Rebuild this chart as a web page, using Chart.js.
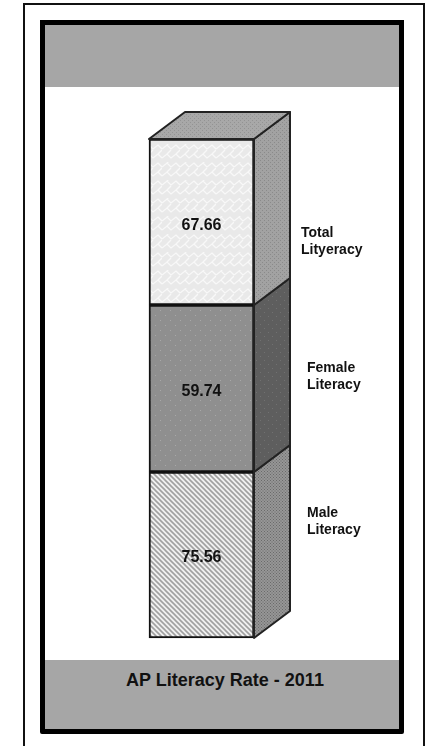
<!DOCTYPE html>
<html>
<head>
<meta charset="utf-8">
<title>AP Literacy Rate - 2011</title>
<script src="https://cdn.jsdelivr.net/npm/chart.js@4/dist/chart.umd.min.js"></script>
<style>
html, body { margin: 0; padding: 0; background: #fff; overflow: hidden; }
body { width: 438px; height: 746px; position: relative; font-family: "Liberation Sans", Arial, sans-serif; }
#outer { position: absolute; left: 23px; top: 3px; width: 398px; height: 760px; border: 2px solid #111; }
#inner { position: absolute; left: 40px; top: 20px; width: 354px; height: 704px; border: 5px solid #000; border-radius: 0 0 2px 2px; }
#topBand { position: absolute; left: 45px; top: 25px; width: 354px; height: 62px; background: #a6a6a6; }
#bottomBand { position: absolute; left: 45px; top: 660px; width: 354px; height: 69px; background: #a6a6a6; }
#title { position: absolute; left: 45px; top: 670px; width: 360px; text-align: center; font-weight: bold; font-size: 18px; line-height: 20px; color: #111; }
canvas { position: absolute; left: 0; top: 0; }
</style>
</head>
<body>
<div id="outer"></div>
<div id="inner"></div>
<div id="topBand"></div>
<div id="bottomBand"></div>
<div id="title">AP Literacy Rate - 2011</div>
<canvas id="literacyChart" width="438" height="746"></canvas>
<script>
// bottom to top, same order as the stack
var categories = [["Male", "Literacy"], ["Female", "Literacy"], ["Total", "Lityeracy"]];
var rateLabels = ["75.56", "59.74", "67.66"];
// the picture draws all three blocks the same height, whatever the printed rate says
var blockHeights = [166, 167, 166];

// label offset from the block's middle, px
var labelX = [53, 53, 47];
var labelY = [-33, -12, 20];
var rateY = [3, 3, 4];
var depthX = 36;
var depthY = -27;

function makePattern(size, draw) {
    var c = document.createElement("canvas");
    c.width = size;
    c.height = size;
    draw(c.getContext("2d"));
    return c.getContext("2d").createPattern(c, "repeat");
}

function dots(bg, fg, step) {
    return makePattern(step, function(g) {
        g.fillStyle = bg;
        g.fillRect(0, 0, step, step);
        g.fillStyle = fg;
        g.fillRect(0, 0, 1, 1);
        g.fillRect(step / 2, step / 2, 1, 1);
    });
}

var weave = makePattern(18, function(g) {
    g.fillStyle = "#e9e9e9";
    g.fillRect(0, 0, 18, 18);
    g.strokeStyle = "#f8f8f8";
    g.lineWidth = 1.3;
    g.beginPath();
    g.moveTo(0, 5); g.lineTo(5, 1); g.lineTo(9, 5); g.lineTo(14, 1); g.lineTo(18, 5);
    g.moveTo(0, 14); g.lineTo(5, 10); g.lineTo(9, 14); g.lineTo(14, 10); g.lineTo(18, 14);
    g.moveTo(5, 1); g.lineTo(9, -3);
    g.moveTo(14, 10); g.lineTo(18, 6);
    g.moveTo(5, 10); g.lineTo(9, 6);
    g.stroke();
});

var stripes = makePattern(5, function(g) {
    g.fillStyle = "#f0f0f0";
    g.fillRect(0, 0, 5, 5);
    g.strokeStyle = "#a0a0a0";
    g.lineWidth = 1.6;
    g.beginPath();
    g.moveTo(-2, -2); g.lineTo(7, 7);
    g.moveTo(-7, -2); g.lineTo(2, 7);
    g.moveTo(3, -2); g.lineTo(12, 7);
    g.stroke();
});

var frontFills = [stripes, dots("#8f8f8f", "#a8a8a8", 10), weave];
var sideFills = [dots("#969696", "#6a6a6a", 3), dots("#5e5e5e", "#717171", 8), dots("#a2a2a2", "#8a8a8a", 4)];
var topFill = dots("#a8a8a8", "#939393", 4);

function face(ctx, pts, fill) {
    ctx.beginPath();
    ctx.moveTo(pts[0][0], pts[0][1]);
    for (var i = 1; i < pts.length; i++) ctx.lineTo(pts[i][0], pts[i][1]);
    ctx.closePath();
    ctx.fillStyle = fill;
    ctx.fill();
    ctx.lineWidth = 2;
    ctx.strokeStyle = "#222";
    ctx.stroke();
}

var blockPlugin = {
    id: "block3d",
    afterDatasetsDraw: function(chart) {
        var ctx = chart.ctx;
        ctx.save();
        ctx.lineJoin = "round";
        for (var i = 0; i < chart.data.datasets.length; i++) {
            var bar = chart.getDatasetMeta(i).data[0];
            var right = bar.x + bar.width / 2;
            var left = bar.x - bar.width / 2;
            face(ctx, [[right, bar.y], [right + depthX, bar.y + depthY], [right + depthX, bar.base + depthY], [right, bar.base]], sideFills[i]);
            if (i === chart.data.datasets.length - 1) {
                face(ctx, [[left, bar.y], [left + depthX, bar.y + depthY], [right + depthX, bar.y + depthY], [right, bar.y]], topFill);
            }
            var mid = (bar.y + bar.base) / 2;
            ctx.fillStyle = "#111";
            ctx.textAlign = "center";
            ctx.textBaseline = "middle";
            ctx.font = "bold 16px 'Liberation Sans', Arial, sans-serif";
            ctx.fillText(rateLabels[i], bar.x, mid + rateY[i]);
            ctx.textAlign = "left";
            ctx.font = "bold 14px 'Liberation Sans', Arial, sans-serif";
            for (var k = 0; k < categories[i].length; k++) {
                ctx.fillText(categories[i][k], right + labelX[i], mid + labelY[i] + (k - 0.5) * 17);
            }
        }
        ctx.restore();
    }
};

var datasets = [];
for (var i = 0; i < blockHeights.length; i++) {
    datasets.push({
        label: categories[i].join(" "),
        data: [blockHeights[i]],
        backgroundColor: frontFills[i],
        borderColor: "#111",
        borderWidth: 2,
        borderSkipped: false,
        barPercentage: 1,
        categoryPercentage: 1,
        clip: false
    });
}

new Chart(document.getElementById("literacyChart"), {
    type: "bar",
    data: { labels: ["AP Literacy Rate - 2011"], datasets: datasets },
    options: {
        responsive: false,
        animation: false,
        devicePixelRatio: 1,
        layout: { padding: { left: 149, right: 184, top: 139, bottom: 108 } },
        plugins: { legend: { display: false }, tooltip: { enabled: false } },
        scales: {
            x: { display: false, stacked: true },
            y: { display: false, stacked: true, min: 0, max: 499 }
        }
    },
    plugins: [blockPlugin]
});
</script>
</body>
</html>
